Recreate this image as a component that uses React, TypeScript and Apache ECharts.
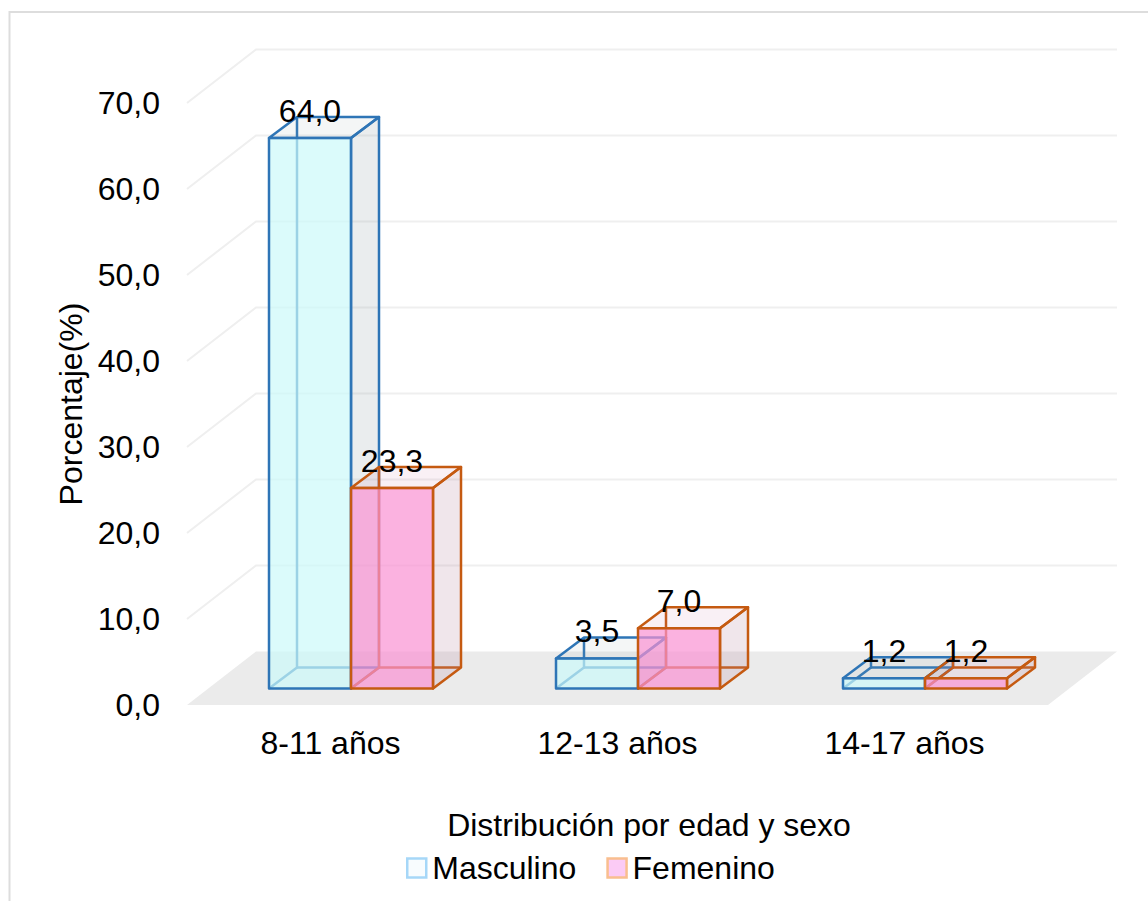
import React, { useEffect, useRef } from "react";
import * as echarts from "echarts";

const categories = ["8-11 años", "12-13 años", "14-17 años"];
const masculino = [64.0, 3.5, 1.2];
const femenino = [23.3, 7.0, 1.2];
const yTicks = [0, 10, 20, 30, 40, 50, 60, 70];
const seriesNames = ["Masculino", "Femenino"];
const xTitle = "Distribución por edad y sexo";
const yTitle = "Porcentaje(%)";

const FONT = "'Liberation Sans', Arial, sans-serif";
const FONT_SIZE = 32;

// Oblique projection of the chart box: the floor's depth on screen.
const WALL_DX = 69;
const WALL_DY = -53.5;
// Bars stand part of the way into the floor.
const BAR_LIFT = -16.5;
const BAR_SHIFT = 20.5;
const BAR_WIDTH = 82;
const BAR_DX = 28;
const BAR_DY = -21;

const bluePalette = {
  edge: "#2E75B6",
  front: "rgba(204,250,250,0.7)",
  side: "rgba(150,165,170,0.2)",
  top: "rgba(150,165,170,0.1)",
};
const pinkPalette = {
  edge: "#C55A11",
  front: "rgba(249,145,211,0.7)",
  side: "rgba(180,130,155,0.2)",
  top: "rgba(200,110,155,0.1)",
};

const numberLabel = (v: number) => v.toFixed(1).replace(".", ",");

// Back walls: a diagonal on the side wall plus a horizontal on the rear wall per tick.
function renderWall(params: any, api: any) {
  const value = api.value(1);
  const [, y] = api.coord([0, value]);
  const sys = params.coordSys;
  const left = sys.x;
  const right = sys.x + sys.width;
  const children: any[] = [];
  if (value === 0) {
    children.push({
      type: "polygon",
      silent: true,
      shape: {
        points: [
          [left, y],
          [right, y],
          [right + WALL_DX, y + WALL_DY],
          [left + WALL_DX, y + WALL_DY],
        ],
      },
      style: { fill: "#EBEBEB", stroke: "none" },
    });
  } else {
    children.push({
      type: "polyline",
      silent: true,
      shape: {
        points: [
          [left, y],
          [left + WALL_DX, y + WALL_DY],
          [right + WALL_DX, y + WALL_DY],
        ],
      },
      style: { fill: "none", stroke: "#EFEFEF", lineWidth: 2 },
    });
  }
  return { type: "group", children };
}

// One translucent box with its hidden edges showing through the faces.
function boxRenderer(palette: typeof bluePalette, slot: number) {
  return (_params: any, api: any) => {
    const cat = api.value(0);
    const val = api.value(1);
    const base = api.coord([cat, 0]);
    const head = api.coord([cat, val]);
    const x0 = base[0] + BAR_SHIFT + (slot - 1) * BAR_WIDTH;
    const x1 = x0 + BAR_WIDTH;
    const yb = base[1] + BAR_LIFT;
    const yt = head[1] + BAR_LIFT;
    const edge = { stroke: palette.edge, lineWidth: 2.5, lineJoin: "round" };
    const line = (points: number[][]) => ({
      type: "polyline",
      shape: { points },
      style: { ...edge, fill: "none" },
    });
    const face = (points: number[][], fill: string) => ({
      type: "polygon",
      shape: { points },
      style: { ...edge, fill },
    });
    return {
      type: "group",
      children: [
        line([
          [x0, yb],
          [x0 + BAR_DX, yb + BAR_DY],
          [x0 + BAR_DX, yt + BAR_DY],
        ]),
        line([
          [x0 + BAR_DX, yb + BAR_DY],
          [x1 + BAR_DX, yb + BAR_DY],
        ]),
        face(
          [
            [x1, yb],
            [x1 + BAR_DX, yb + BAR_DY],
            [x1 + BAR_DX, yt + BAR_DY],
            [x1, yt],
          ],
          palette.side
        ),
        face(
          [
            [x0, yt],
            [x1, yt],
            [x1 + BAR_DX, yt + BAR_DY],
            [x0 + BAR_DX, yt + BAR_DY],
          ],
          palette.top
        ),
        face(
          [
            [x0, yb],
            [x1, yb],
            [x1, yt],
            [x0, yt],
          ],
          palette.front
        ),
        {
          type: "text",
          z2: 50,
          style: {
            x: (x0 + x1) / 2,
            y: yt - 27,
            text: numberLabel(val),
            fill: "#000",
            font: `${FONT_SIZE}px ${FONT}`,
            align: "center",
            verticalAlign: "middle",
          },
        },
      ],
    };
  };
}

export default function App() {
  const ref = useRef<HTMLDivElement>(null);

  useEffect(() => {
    const chart = echarts.init(ref.current!, undefined, { renderer: "svg" });
    chart.setOption({
      animation: false,
      backgroundColor: "#FFFFFF",
      textStyle: { fontFamily: FONT },
      grid: { left: 187, top: 103, width: 861, height: 602 },
      title: {
        text: xTitle,
        left: 644,
        top: 804,
        textAlign: "center",
        textStyle: {
          color: "#000",
          fontFamily: FONT,
          fontSize: FONT_SIZE,
          fontWeight: "normal",
        },
      },
      legend: {
        left: 406,
        top: 852,
        padding: 0,
        itemWidth: 19,
        itemHeight: 19,
        itemGap: 30,
        icon: "rect",
        textStyle: {
          color: "#000",
          fontFamily: FONT,
          fontSize: FONT_SIZE,
          padding: [0, 0, 0, 1],
        },
        data: [
          {
            name: seriesNames[0],
            itemStyle: { color: "#F8FCFE", borderColor: "#A6D7F8", borderWidth: 2.5 },
          },
          {
            name: seriesNames[1],
            itemStyle: { color: "#FBCBF5", borderColor: "#F9BE8F", borderWidth: 2.5 },
          },
        ],
      },
      xAxis: {
        type: "category",
        data: categories,
        axisLine: { show: false },
        axisTick: { show: false },
        axisLabel: {
          color: "#000",
          fontFamily: FONT,
          fontSize: FONT_SIZE,
          margin: 22,
          interval: 0,
        },
      },
      yAxis: {
        type: "value",
        min: 0,
        max: 70,
        interval: 10,
        name: yTitle,
        nameLocation: "middle",
        nameGap: 100,
        nameTextStyle: { color: "#000", fontFamily: FONT, fontSize: FONT_SIZE },
        axisLine: { show: false },
        axisTick: { show: false },
        splitLine: { show: false },
        axisLabel: {
          color: "#000",
          fontFamily: FONT,
          fontSize: FONT_SIZE,
          margin: 27,
          padding: [6, 0, 0, 0],
          formatter: numberLabel,
        },
      },
      graphic: [
        {
          type: "rect",
          silent: true,
          z: -10,
          shape: { x: 9.5, y: 12, width: 1200, height: 1000 },
          style: { fill: "none", stroke: "#DDDDDD", lineWidth: 2 },
        },
      ],
      series: [
        {
          type: "custom",
          name: "Planos",
          silent: true,
          z: 1,
          renderItem: renderWall,
          encode: { x: 0, y: 1 },
          data: yTicks.map((t) => [0, t]),
        },
        {
          type: "custom",
          name: seriesNames[0],
          z: 2,
          silent: true,
          itemStyle: { color: "#F8FCFE" },
          renderItem: boxRenderer(bluePalette, 0),
          encode: { x: 0, y: 1 },
          data: masculino.map((v, i) => [i, v]),
        },
        {
          type: "custom",
          name: seriesNames[1],
          z: 3,
          silent: true,
          itemStyle: { color: "#FBCBF5" },
          renderItem: boxRenderer(pinkPalette, 1),
          encode: { x: 0, y: 1 },
          data: femenino.map((v, i) => [i, v]),
        },
      ],
    });
    return () => chart.dispose();
  }, []);

  return (
    <div
      ref={ref}
      style={{ position: "fixed", left: 0, top: 0, width: 1148, height: 901 }}
    />
  );
}
